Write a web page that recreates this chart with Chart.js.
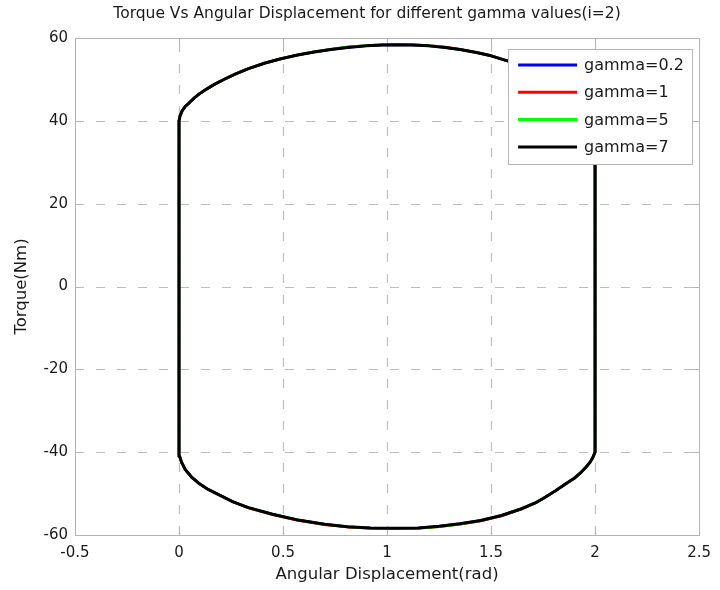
<!doctype html>
<html lang="en">
<head>
    <meta charset="utf-8">
    <title>Torque Vs Angular Displacement</title>
    <script src="https://cdn.jsdelivr.net/npm/chart.js"></script>
    <style>
        body {
            margin: 0;
            background: #ffffff;
        }

        .chart-box {
            width: 720px;
            height: 590px;
        }
    </style>
</head>
<body>
    <div class="chart-box">
        <canvas id="torqueChart" width="720" height="590"></canvas>
    </div>

    <script>
        // Angular displacement (rad) around the loop: up the left side, over the top, down the right, back along the bottom
        const angle = [
            0, 0, 0.005, 0.015, 0.03, 0.048, 0.075, 0.1, 0.14, 0.177, 0.22, 0.27, 0.334, 0.41, 0.49, 0.57, 0.65, 0.73, 0.81, 0.9, 0.98,
            1.05, 1.12, 1.2, 1.28, 1.35, 1.43, 1.5, 1.59, 1.66, 1.72, 1.78, 1.83, 1.87, 1.91, 1.94, 1.965, 1.985, 2.0,
            2.0, 1.99, 1.975, 1.957, 1.93, 1.9, 1.86, 1.81, 1.76, 1.718, 1.65, 1.55, 1.45, 1.35, 1.25, 1.15, 1.03,
            0.92, 0.81, 0.7, 0.573, 0.45, 0.334, 0.26, 0.2, 0.14, 0.095, 0.06, 0.03, 0.012, 0.003, 0
        ];

        // Torque (Nm) for each gamma value
        const torqueGamma02 = [
            -40, 40, 41.2, 42.4, 43.5, 44.3, 45.6, 46.6, 47.9, 49.0, 50.1, 51.3, 52.6, 53.9, 55.0, 55.9, 56.6, 57.2, 57.7, 58.1, 58.3,
            58.4, 58.3, 58.1, 57.7, 57.2, 56.5, 55.7, 54.3, 53.1, 51.9, 50.4, 48.9, 47.5, 45.9, 44.4, 42.9, 41.5, 40,
            -40, -41.2, -42.5, -43.6, -45.0, -46.3, -47.6, -49.3, -50.9, -52.1, -53.6, -55.3, -56.5, -57.3, -57.9, -58.3, -58.4,
            -58.3, -58.0, -57.4, -56.4, -55.0, -53.4, -52.0, -50.5, -49.0, -47.5, -46.0, -44.2, -42.4, -41.0, -40
        ];
        const torqueGamma1 = [
            -40, 40, 41.2, 42.4, 43.5, 44.3, 45.6, 46.6, 47.9, 49.0, 50.1, 51.3, 52.6, 53.9, 55.0, 55.9, 56.7, 57.3, 57.8, 58.2, 58.4,
            58.5, 58.4, 58.2, 57.8, 57.3, 56.5, 55.7, 54.3, 53.1, 51.9, 50.4, 48.9, 47.5, 45.9, 44.4, 42.9, 41.5, 40,
            -40, -41.2, -42.5, -43.6, -45.0, -46.3, -47.6, -49.3, -50.9, -52.2, -53.7, -55.4, -56.6, -57.4, -58.0, -58.4, -58.5,
            -58.4, -58.1, -57.5, -56.5, -55.1, -53.5, -52.0, -50.5, -49.0, -47.5, -46.0, -44.2, -42.4, -41.0, -40
        ];
        const torqueGamma5 = [
            -40, 40, 41.2, 42.4, 43.5, 44.3, 45.6, 46.6, 47.9, 49.0, 50.1, 51.3, 52.6, 53.9, 55.0, 55.9, 56.7, 57.3, 57.8, 58.2, 58.4,
            58.5, 58.4, 58.2, 57.7, 57.2, 56.5, 55.7, 54.3, 53.1, 51.9, 50.4, 48.9, 47.5, 45.9, 44.4, 42.9, 41.5, 40,
            -40, -41.2, -42.5, -43.6, -45.0, -46.3, -47.6, -49.3, -50.9, -52.1, -53.6, -55.3, -56.5, -57.4, -58.0, -58.4, -58.5,
            -58.4, -58.0, -57.4, -56.4, -55.0, -53.4, -52.0, -50.5, -49.0, -47.5, -46.0, -44.2, -42.4, -41.0, -40
        ];
        const torqueGamma7 = [
            -40, 40, 41.2, 42.4, 43.5, 44.3, 45.6, 46.6, 47.9, 49.0, 50.1, 51.3, 52.6, 53.9, 55.0, 55.9, 56.6, 57.2, 57.7, 58.1, 58.3,
            58.4, 58.3, 58.1, 57.7, 57.2, 56.5, 55.7, 54.3, 53.1, 51.9, 50.4, 48.9, 47.5, 45.9, 44.4, 42.9, 41.5, 40,
            -40, -41.2, -42.5, -43.6, -45.0, -46.3, -47.6, -49.3, -50.9, -52.1, -53.6, -55.3, -56.5, -57.3, -57.9, -58.3, -58.4,
            -58.3, -58.0, -57.4, -56.4, -55.0, -53.4, -52.0, -50.5, -49.0, -47.5, -46.0, -44.2, -42.4, -41.0, -40
        ];

        const seriesLabels = ['gamma=0.2', 'gamma=1', 'gamma=5', 'gamma=7'];
        const seriesColors = ['#0000ff', '#ff0000', '#00ff00', '#000000'];
        const seriesTorque = [torqueGamma02, torqueGamma1, torqueGamma5, torqueGamma7];

        const xTicks = [-0.5, 0, 0.5, 1, 1.5, 2, 2.5];
        const yTicks = [-60, -40, -20, 0, 20, 40, 60];

        const chartTitle = 'Torque Vs Angular Displacement for different gamma values(i=2)';
        const fontFamily = '"DejaVu Sans", "Liberation Sans", Arial, sans-serif';
        const textColor = '#1a1a1a';
        const frameColor = '#b4b4b4';
        const gridColor = '#bdbdbd';

        const datasets = seriesTorque.map((torque, i) => ({
            label: seriesLabels[i],
            data: angle.map((a, k) => ({ x: a, y: torque[k] })),
            borderColor: seriesColors[i],
            backgroundColor: seriesColors[i],
            borderWidth: i === 3 ? 3 : 2.5,
            showLine: true,
            pointRadius: 0,
            tension: 0,
            borderJoinStyle: 'round',
            // black drawn on top
            order: 3 - i
        }));

        // Dashed grid plus a box round the plot area with short inward ticks
        const frameBox = {
            id: 'frameBox',
            beforeDatasetsDraw(chart) {
                const { ctx, chartArea: a, scales } = chart;
                ctx.save();
                ctx.strokeStyle = gridColor;
                ctx.lineWidth = 1.2;
                ctx.setLineDash([9, 12]);
                ctx.beginPath();
                xTicks.slice(1, -1).forEach(v => {
                    const px = Math.round(scales.x.getPixelForValue(v)) + 0.5;
                    ctx.moveTo(px, a.bottom); ctx.lineTo(px, a.top);
                });
                yTicks.slice(1, -1).forEach(v => {
                    const py = Math.round(scales.y.getPixelForValue(v)) + 0.5;
                    ctx.moveTo(a.left, py); ctx.lineTo(a.right, py);
                });
                ctx.stroke();

                ctx.strokeStyle = frameColor;
                ctx.lineWidth = 1;
                ctx.setLineDash([]);
                ctx.strokeRect(a.left + 0.5, a.top + 0.5, a.right - a.left, a.bottom - a.top);
                ctx.beginPath();
                xTicks.forEach(v => {
                    const px = Math.round(scales.x.getPixelForValue(v)) + 0.5;
                    ctx.moveTo(px, a.bottom); ctx.lineTo(px, a.bottom - 6);
                    ctx.moveTo(px, a.top); ctx.lineTo(px, a.top + 6);
                });
                yTicks.forEach(v => {
                    const py = Math.round(scales.y.getPixelForValue(v)) + 0.5;
                    ctx.moveTo(a.left, py); ctx.lineTo(a.left + 6, py);
                    ctx.moveTo(a.right, py); ctx.lineTo(a.right - 6, py);
                });
                ctx.stroke();
                ctx.restore();
            }
        };

        // Title over the plot
        const plotTitle = {
            id: 'plotTitle',
            afterDraw(chart) {
                const { ctx, chartArea: a } = chart;
                ctx.save();
                ctx.font = '15.5px ' + fontFamily;
                ctx.fillStyle = textColor;
                ctx.textAlign = 'center';
                ctx.textBaseline = 'middle';
                ctx.fillText(chartTitle, (a.left + a.right) / 2 - 20, a.top - 24);
                ctx.restore();
            }
        };

        // Legend box in the upper right corner of the plot
        const boxLegend = {
            id: 'boxLegend',
            afterDatasetsDraw(chart) {
                const { ctx, chartArea: a } = chart;
                const right = a.right - 7;
                const left = right - 184;
                const top = a.top + 11;
                const height = 115;
                ctx.save();
                ctx.fillStyle = '#ffffff';
                ctx.fillRect(left, top, right - left, height);
                ctx.strokeStyle = frameColor;
                ctx.lineWidth = 1;
                ctx.strokeRect(left + 0.5, top + 0.5, right - left, height);
                ctx.font = '16px ' + fontFamily;
                ctx.textBaseline = 'middle';
                ctx.textAlign = 'left';
                chart.data.datasets.forEach((ds, i) => {
                    const y = top + 16 + i * 27.3;
                    ctx.strokeStyle = ds.borderColor;
                    ctx.lineWidth = 3;
                    ctx.beginPath();
                    ctx.moveTo(left + 10, y);
                    ctx.lineTo(left + 69, y);
                    ctx.stroke();
                    ctx.fillStyle = textColor;
                    ctx.fillText(ds.label, left + 76, y + 1);
                });
                ctx.restore();
            }
        };

        const ctx = document.getElementById('torqueChart').getContext('2d');
        const torqueChart = new Chart(ctx, {
            type: 'scatter',
            data: { datasets: datasets },
            options: {
                responsive: false,
                animation: false,
                layout: {
                    padding: { left: 0, right: 16, top: 38, bottom: 0 }
                },
                plugins: {
                    legend: { display: false },
                    tooltip: { enabled: false },
                    title: { display: false }
                },
                scales: {
                    x: {
                        type: 'linear',
                        min: -0.5,
                        max: 2.5,
                        afterFit(scale) { scale.height = 55; },
                        afterBuildTicks(scale) { scale.ticks = xTicks.map(v => ({ value: v })); },
                        ticks: {
                            color: textColor,
                            padding: 9,
                            font: { family: fontFamily, size: 15 },
                            callback: v => String(v)
                        },
                        grid: { display: false, drawTicks: false },
                        border: { display: false },
                        title: {
                            display: true,
                            text: 'Angular Displacement(rad)',
                            color: textColor,
                            font: { family: fontFamily, size: 16.5, lineHeight: 1.2 },
                            padding: { top: 0, bottom: 5 }
                        }
                    },
                    y: {
                        type: 'linear',
                        min: -60,
                        max: 60,
                        afterFit(scale) { scale.width = 75; },
                        afterBuildTicks(scale) { scale.ticks = yTicks.map(v => ({ value: v })); },
                        ticks: {
                            color: textColor,
                            padding: 7,
                            font: { family: fontFamily, size: 15 },
                            callback: v => String(v)
                        },
                        grid: { display: false, drawTicks: false },
                        border: { display: false },
                        title: {
                            display: true,
                            text: 'Torque(Nm)',
                            color: textColor,
                            font: { family: fontFamily, size: 16.5, lineHeight: 1.2 },
                            padding: { top: 12, bottom: 0 }
                        }
                    }
                }
            },
            plugins: [frameBox, boxLegend, plotTitle]
        });
    </script>
</body>
</html>
